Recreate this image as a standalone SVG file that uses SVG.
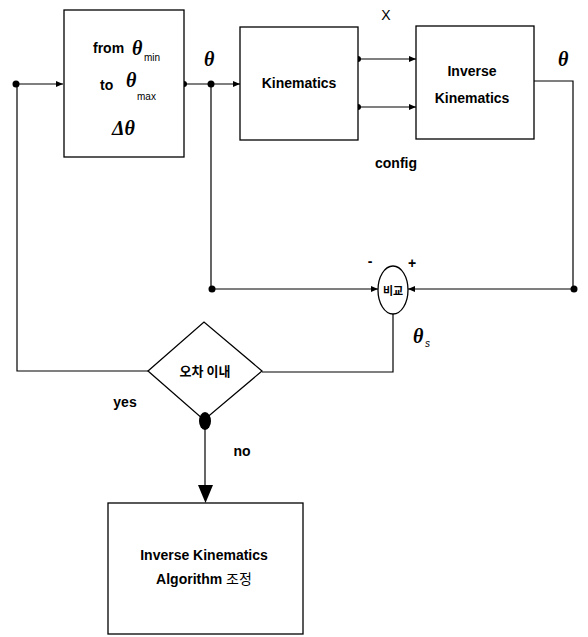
<svg xmlns="http://www.w3.org/2000/svg" width="588" height="637" viewBox="0 0 588 637">
<style>
.box{fill:#fff;stroke:#000;stroke-width:1.3}
.ln{fill:none;stroke:#000;stroke-width:1.2}
.t{font-family:"Liberation Sans",Arial,sans-serif;font-weight:bold;font-size:14px;fill:#000}
.k{font-family:"Noto Sans CJK KR",sans-serif;font-size:13px;fill:#000}
.th{font-family:"Liberation Serif",serif;font-style:italic;font-weight:bold;font-size:20px;fill:#000}
.sub{font-family:"Liberation Sans",sans-serif;font-size:10px;fill:#000}
</style>
<defs>
<marker id="a" markerWidth="8" markerHeight="8" refX="7" refY="4" orient="auto" markerUnits="userSpaceOnUse">
<path d="M0,1 L7,4 L0,7 Z" fill="#000"/>
</marker>
</defs>
<g id="connectors">
<path class="ln" d="M16,84 L63,84" marker-end="url(#a)"/>
<path class="ln" d="M184,84 L240,84" marker-end="url(#a)"/>
<path class="ln" d="M211,84 L211,289 L378,289" marker-end="url(#a)"/>
<path class="ln" d="M358,59 L416,59" marker-end="url(#a)"/>
<path class="ln" d="M358,107 L416,107" marker-end="url(#a)"/>
<path class="ln" d="M534,81 L573,81 L573,289 L408,289" marker-end="url(#a)"/>
<path class="ln" d="M393,313 L393,372 L262,372"/>
<path class="ln" d="M148,371 L17,371 L17,84"/>
<path class="ln" d="M205,420 L205,485"/>
<path d="M198,485 L213,485 L205.5,503 Z" fill="#000"/>
<circle cx="16" cy="84" r="3.5"/>
<circle cx="184" cy="84" r="3"/>
<circle cx="211" cy="84" r="3.5"/>
<circle cx="358" cy="59" r="3"/>
<circle cx="358" cy="107" r="3"/>
<circle cx="212" cy="289" r="3.5"/>
<circle cx="574" cy="289" r="3.5"/>
</g>
<g id="range">
<rect class="box" x="64" y="10" width="120" height="147"/>
<text class="t" x="93" y="53">from</text>
<text class="th" x="132" y="55">θ</text>
<text class="sub" x="144" y="61">min</text>
<text class="t" x="100" y="90">to</text>
<text class="th" x="126" y="87">θ</text>
<text class="sub" x="137" y="100">max</text>
<text class="th" x="112" y="135">Δθ</text>
</g>
<text class="th" x="204" y="66">θ</text>
<g id="kinematics">
<rect class="box" x="240" y="27" width="118" height="113"/>
<text class="t" x="299" y="88" text-anchor="middle">Kinematics</text>
</g>
<text class="t" x="386" y="20" text-anchor="middle" style="font-weight:normal">X</text>
<text class="t" x="396" y="168" text-anchor="middle">config</text>
<g id="inverse">
<rect class="box" x="416" y="26" width="118" height="113"/>
<text class="t" x="472" y="76" text-anchor="middle">Inverse</text>
<text class="t" x="472" y="103" text-anchor="middle">Kinematics</text>
</g>
<text class="th" x="558" y="66">θ</text>
<g id="compare">
<ellipse class="box" cx="393" cy="290" rx="15" ry="24"/>
<text class="k" x="393" y="295" text-anchor="middle" style="font-weight:bold;font-size:11px">비교</text>
</g>
<text class="t" x="370" y="266" text-anchor="middle">-</text>
<text class="t" x="412" y="268" text-anchor="middle">+</text>
<text class="th" x="413" y="343">θ</text>
<text class="sub" x="425" y="347" style="font-style:italic">s</text>
<g id="decision">
<polygon class="box" points="148,371 204,322 262,371 204,420"/>
<text class="k" x="205" y="376" text-anchor="middle" style="font-weight:bold">오차 이내</text>
<ellipse cx="205" cy="421" rx="6" ry="9"/>
</g>
<text class="t" x="125" y="407" text-anchor="middle">yes</text>
<text class="t" x="242" y="456" text-anchor="middle">no</text>
<g id="adjust">
<rect class="box" x="108" y="503" width="195" height="131"/>
<text class="t" x="204" y="560" text-anchor="middle">Inverse Kinematics</text>
<text class="t" x="204" y="584" text-anchor="middle">Algorithm <tspan class="k" style="font-weight:normal;font-size:14px">조정</tspan></text>
</g>
</svg>
